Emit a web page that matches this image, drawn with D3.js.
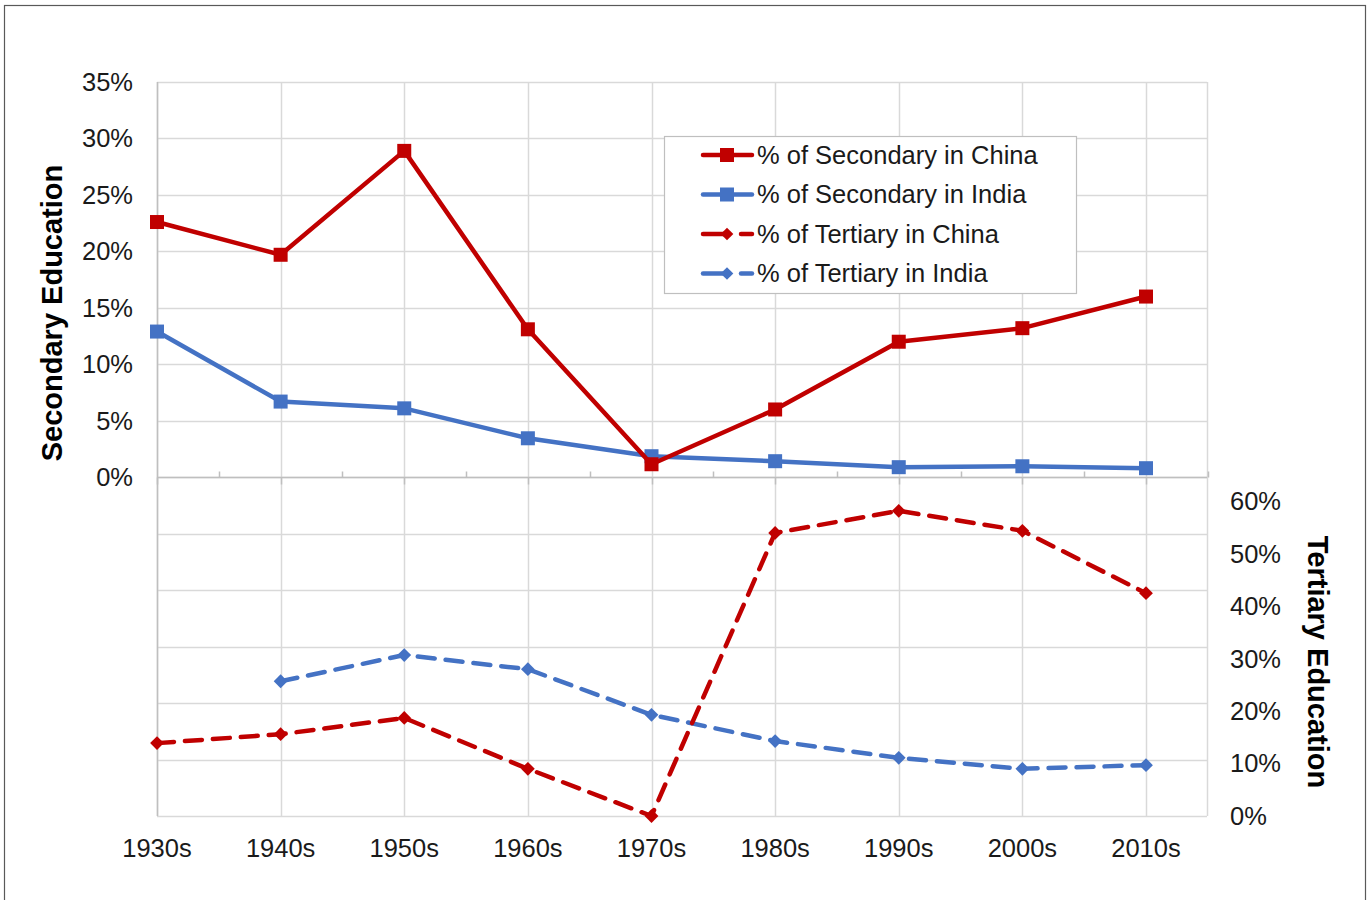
<!DOCTYPE html>
<html>
<head>
<meta charset="utf-8">
<script src="https://cdn.jsdelivr.net/npm/d3@7"></script>
<style>
  html, body { margin: 0; padding: 0; background: #fff; }
  svg { display: block; font-family: "Liberation Sans", Arial, sans-serif; }
</style>
</head>
<body>
<svg id="chart" width="1370" height="900"></svg>
<script>
const categories = ["1930s","1940s","1950s","1960s","1970s","1980s","1990s","2000s","2010s"];
const secondaryChina = [0.226, 0.197, 0.289, 0.131, 0.0115, 0.060, 0.120, 0.132, 0.160];
const secondaryIndia = [0.129, 0.067, 0.061, 0.0345, 0.0186, 0.0142, 0.0089, 0.0097, 0.0080];
const tertiaryChina = [0.139, 0.156, 0.187, 0.090, 0.0, 0.540, 0.582, 0.544, 0.425];
const tertiaryIndia = [null, 0.257, 0.307, 0.280, 0.193, 0.143, 0.111, 0.090, 0.097];
const leftTickLabels = [0, 0.05, 0.10, 0.15, 0.20, 0.25, 0.30, 0.35];
const rightTickLabels = [0, 0.10, 0.20, 0.30, 0.40, 0.50, 0.60];
const seriesNames = ["% of Secondary in China","% of Secondary in India","% of Tertiary in China","% of Tertiary in India"];

const RED = "#C00000", BLUE = "#4472C4";
const FS = 25.5, TFS = 29;
const svg = d3.select("#chart");

// outer frame
svg.append("rect").attr("x", 4.5).attr("y", 5.5).attr("width", 1361).attr("height", 900)
  .attr("fill", "none").attr("stroke", "#595959").attr("stroke-width", 1.2);

const plotLeft = 157, plotRight = 1207, plotTop = 82, plotBottom = 816;
const x = d3.scalePoint().domain(categories).range([plotLeft, 1146]);
const step = x.step();
const yL = d3.scaleLinear().domain([-0.30, 0.35]).range([plotBottom, plotTop]);
const yR = d3.scaleLinear().domain([0, 1.4]).range([plotBottom, plotTop]);

// gridlines
const gridVals = d3.range(-30, 36, 5).map(v => v / 100);
svg.append("g").selectAll("line").data(gridVals).join("line")
  .attr("x1", plotLeft).attr("x2", plotRight)
  .attr("y1", d => Math.round(yL(d)) + 0.5).attr("y2", d => Math.round(yL(d)) + 0.5)
  .attr("stroke", "#d9d9d9").attr("stroke-width", 1.5);
svg.append("g").selectAll("line").data(categories).join("line")
  .attr("x1", d => Math.round(x(d)) + 0.5).attr("x2", d => Math.round(x(d)) + 0.5)
  .attr("y1", plotTop).attr("y2", plotBottom)
  .attr("stroke", "#d9d9d9").attr("stroke-width", 1.5);
svg.append("line").attr("x1", plotRight + 0.5).attr("x2", plotRight + 0.5)
  .attr("y1", plotTop).attr("y2", plotBottom).attr("stroke", "#d9d9d9").attr("stroke-width", 1.5);
svg.append("line").attr("x1", plotLeft + 0.5).attr("x2", plotLeft + 0.5)
  .attr("y1", plotTop).attr("y2", plotBottom).attr("stroke", "#bfbfbf").attr("stroke-width", 1.5);

// horizontal axis at 0 of left scale
const y0 = Math.round(yL(0)) + 0.5;
svg.append("line").attr("x1", plotLeft).attr("x2", plotRight).attr("y1", y0).attr("y2", y0)
  .attr("stroke", "#bfbfbf").attr("stroke-width", 1.5);
svg.append("g").selectAll("line").data(categories).join("line")
  .attr("x1", d => Math.round(x(d)) + 0.5).attr("x2", d => Math.round(x(d)) + 0.5)
  .attr("y1", y0).attr("y2", y0 + 7).attr("stroke", "#bfbfbf").attr("stroke-width", 1.5);
svg.append("g").selectAll("line").data(categories).join("line")
  .attr("x1", d => Math.round(x(d) + step / 2) + 0.5).attr("x2", d => Math.round(x(d) + step / 2) + 0.5)
  .attr("y1", y0).attr("y2", y0 - 6).attr("stroke", "#bfbfbf").attr("stroke-width", 1.5);

// left axis labels
svg.append("g").selectAll("text").data(leftTickLabels).join("text")
  .attr("x", 133).attr("y", d => yL(d)).attr("dy", "0.35em")
  .attr("text-anchor", "end").attr("font-size", FS).attr("fill", "#1a1a1a")
  .text(d => Math.round(d * 100) + "%");
// right axis labels
svg.append("g").selectAll("text").data(rightTickLabels).join("text")
  .attr("x", 1230).attr("y", d => yR(d)).attr("dy", "0.35em")
  .attr("text-anchor", "start").attr("font-size", FS).attr("fill", "#1a1a1a")
  .text(d => Math.round(d * 100) + "%");
// x labels
svg.append("g").selectAll("text").data(categories).join("text")
  .attr("x", d => x(d)).attr("y", 848).attr("dy", "0.35em")
  .attr("text-anchor", "middle").attr("font-size", FS).attr("fill", "#1a1a1a")
  .text(d => d);

// axis titles
svg.append("text").attr("transform", "translate(52,313) rotate(-90)")
  .attr("text-anchor", "middle").attr("dy", "0.35em")
  .attr("font-size", TFS).attr("font-weight", "bold").attr("fill", "#000")
  .text("Secondary Education");
svg.append("text").attr("transform", "translate(1318,662) rotate(90)")
  .attr("text-anchor", "middle").attr("dy", "0.35em")
  .attr("font-size", TFS).attr("font-weight", "bold").attr("fill", "#000")
  .text("Tertiary Education");

// series
const series = [
  { vals: tertiaryIndia, scale: yR, color: BLUE, dash: "17,11", marker: "diamond" },
  { vals: tertiaryChina, scale: yR, color: RED, dash: "17,11", marker: "diamond" },
  { vals: secondaryIndia, scale: yL, color: BLUE, dash: null, marker: "square" },
  { vals: secondaryChina, scale: yL, color: RED, dash: null, marker: "square" }
];
series.forEach(s => {
  const pts = categories.map((c, i) => ({ c, v: s.vals[i] })).filter(p => p.v !== null);
  const line = d3.line().x(p => x(p.c)).y(p => s.scale(p.v));
  svg.append("path").datum(pts).attr("d", line)
    .attr("fill", "none").attr("stroke", s.color).attr("stroke-width", 4.5)
    .attr("stroke-linecap", s.dash ? "round" : "butt").attr("stroke-linejoin", "round")
    .attr("stroke-dasharray", s.dash);
  const g = svg.append("g");
  if (s.marker === "square") {
    g.selectAll("rect").data(pts).join("rect")
      .attr("x", p => x(p.c) - 7).attr("y", p => s.scale(p.v) - 7)
      .attr("width", 14).attr("height", 14).attr("fill", s.color);
  } else {
    g.selectAll("path").data(pts).join("path")
      .attr("d", d3.symbol().type(d3.symbolSquare).size(95)).attr("fill", s.color)
      .attr("transform", p => `translate(${x(p.c)},${s.scale(p.v)}) rotate(45)`);
  }
});

// legend
const lg = svg.append("g");
lg.append("rect").attr("x", 664.5).attr("y", 136.5).attr("width", 412).attr("height", 157)
  .attr("fill", "#fff").attr("stroke", "#bfbfbf").attr("stroke-width", 1.2);
const legendItems = [
  { name: seriesNames[0], color: RED, dash: false },
  { name: seriesNames[1], color: BLUE, dash: false },
  { name: seriesNames[2], color: RED, dash: true },
  { name: seriesNames[3], color: BLUE, dash: true }
];
legendItems.forEach((it, i) => {
  const cy = 155 + i * 39.5;
  if (!it.dash) {
    lg.append("line").attr("x1", 703).attr("x2", 752).attr("y1", cy).attr("y2", cy)
      .attr("stroke", it.color).attr("stroke-width", 4.5).attr("stroke-linecap", "round");
    lg.append("rect").attr("x", 720).attr("y", cy - 7).attr("width", 14).attr("height", 14).attr("fill", it.color);
  } else {
    lg.append("line").attr("x1", 703).attr("x2", 727).attr("y1", cy).attr("y2", cy)
      .attr("stroke", it.color).attr("stroke-width", 4.5).attr("stroke-linecap", "round");
    lg.append("line").attr("x1", 741).attr("x2", 752).attr("y1", cy).attr("y2", cy)
      .attr("stroke", it.color).attr("stroke-width", 4.5).attr("stroke-linecap", "round");
    lg.append("path").attr("d", d3.symbol().type(d3.symbolSquare).size(80))
      .attr("transform", `translate(727,${cy}) rotate(45)`).attr("fill", it.color);
  }
  lg.append("text").attr("x", 757).attr("y", cy).attr("dy", "0.35em")
    .attr("font-size", FS).attr("fill", "#1a1a1a").text(it.name);
});
</script>
</body>
</html>
